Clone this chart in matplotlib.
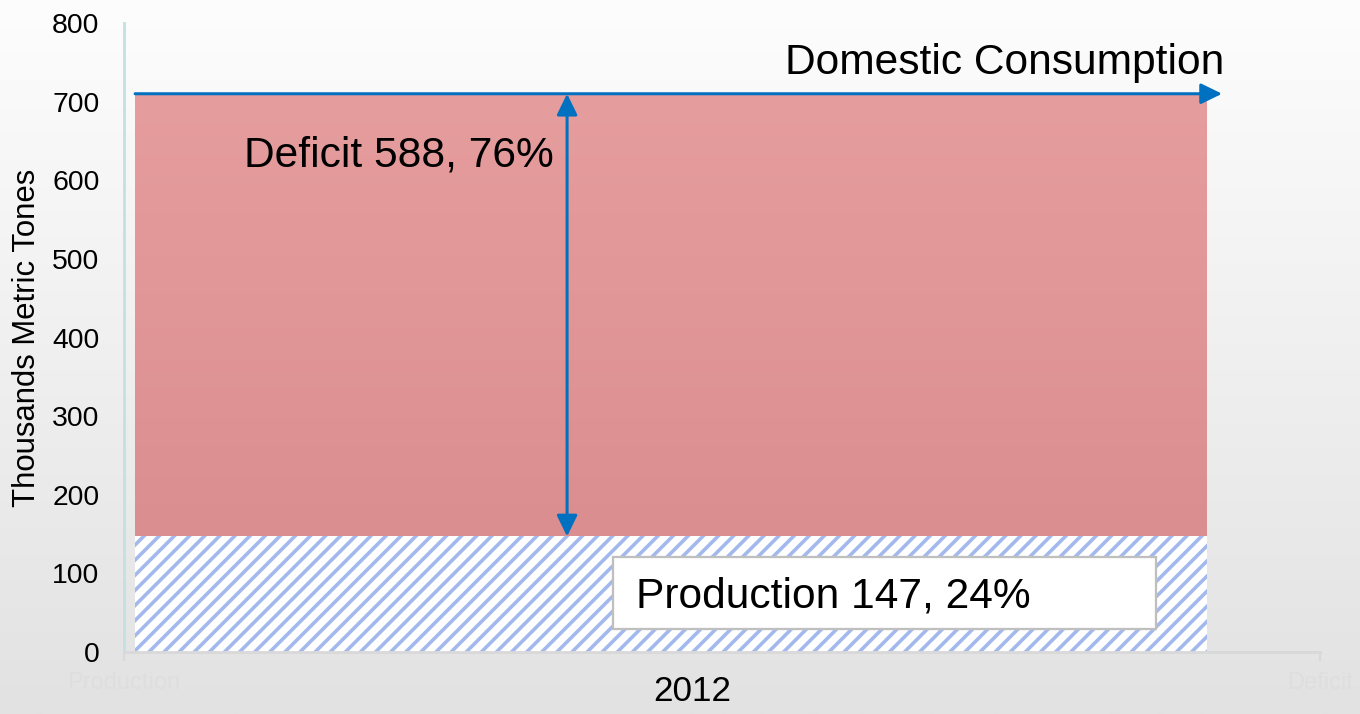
import numpy as np
import matplotlib
matplotlib.use('Agg')
import matplotlib.pyplot as plt
from matplotlib.colors import LinearSegmentedColormap
from matplotlib.patches import Rectangle

# data
years = ['2012']
production = [147]
consumption = [710]
deficit = [c - p for c, p in zip(consumption, production)]
series_names = ['Production', 'Deficit']
y_ticks = [0, 100, 200, 300, 400, 500, 600, 700, 800]
y_label = 'Thousands Metric Tones'
consumption_label = 'Domestic Consumption'
deficit_label = 'Deficit 588, 76%'
production_label = 'Production 147, 24%'

plt.rcParams['font.family'] = ['Liberation Sans', 'DejaVu Sans']
plt.rcParams['hatch.linewidth'] = 1.9

fig = plt.figure(figsize=(10, 5.25), dpi=136)

# grey gradient background
bg = fig.add_axes([0, 0, 1, 1], zorder=-1)
bg_cmap = LinearSegmentedColormap.from_list('bg', ['#fdfdfd', '#e2e2e2'])
bg.imshow(np.linspace(0, 1, 256).reshape(-1, 1), cmap=bg_cmap,
          aspect='auto', extent=[0, 1, 0, 1])
bg.axis('off')

ax = fig.add_axes([0.0912, 0.0868, 0.8794, 0.8810])
ax.set_facecolor('none')

x = np.arange(len(years))
blue = '#0070c0'

# production (hatched)
prod_bars = ax.bar(x, production, width=1.0, color='white',
                   edgecolor='#a3b9ee', hatch='///', linewidth=0, zorder=2)

# deficit (pink with slight vertical gradient)
def_bars = ax.bar(x, deficit, bottom=production, width=1.0,
                  color='#e29798', linewidth=0, zorder=2)
def_cmap = LinearSegmentedColormap.from_list('def', ['#db8e8f', '#e69d9e'])
for b in def_bars:
    im = ax.imshow(np.linspace(0, 1, 128).reshape(-1, 1), cmap=def_cmap,
                   origin='lower', aspect='auto', zorder=2.5,
                   extent=[b.get_x(), b.get_x() + b.get_width(),
                           b.get_y(), b.get_y() + b.get_height()])
    im.set_clip_path(b)

# domestic consumption line with arrow, deficit double arrow
for i, c in enumerate(consumption):
    ax.annotate('', xy=(x[i] + 0.514, c), xytext=(x[i] - 0.5, c),
                arrowprops=dict(arrowstyle='-|>,head_length=0.45,head_width=0.22',
                                color=blue, lw=1.6, mutation_scale=21,
                                shrinkA=0, shrinkB=0), zorder=4)
    ax.annotate('', xy=(x[i] - 0.097, c), xytext=(x[i] - 0.097, production[i]),
                arrowprops=dict(arrowstyle='<|-|>,head_length=0.45,head_width=0.22',
                                color=blue, lw=1.6, mutation_scale=21,
                                shrinkA=0, shrinkB=0), zorder=4)

ax.text(0.106, 749, consumption_label, fontsize=22.5, va='center', ha='left', zorder=5)
ax.text(-0.398, 632, deficit_label, fontsize=22.5, va='center', ha='left', zorder=5)

ax.add_patch(Rectangle((-0.054, 29), 0.506, 92, facecolor='white',
                       edgecolor='#bfbfbf', linewidth=1.2, zorder=4))
ax.text(-0.033, 71, production_label, fontsize=22.5, va='center', ha='left', zorder=5)

ax.set_xlim(-0.5103, 0.6054)
ax.set_ylim(0, 800)
ax.set_yticks(y_ticks)
ax.tick_params(axis='y', length=0, pad=13, labelsize=15)
ax.set_xticks([0.0196], years)
ax.tick_params(axis='x', length=0, pad=12, labelsize=18.5)
ax.set_ylabel(y_label, fontsize=16.5)
ax.yaxis.set_label_coords(-0.069, 0.5)

# faint category names at the axis ends
ax.text(0, -0.05, series_names[0], transform=ax.transAxes, ha='center',
        va='center', fontsize=12.5, color='#dedede')
ax.text(1, -0.05, series_names[1], transform=ax.transAxes, ha='center',
        va='center', fontsize=12.5, color='#dedede')

# end ticks on the x axis
ax.set_xticks([-0.5103, 0.6054], minor=True)
ax.tick_params(axis='x', which='minor', length=5, width=1.2, color='#d9d9d9')

for s in ['top', 'right']:
    ax.spines[s].set_visible(False)
ax.spines['left'].set_color('#c5e0e4')
ax.spines['left'].set_linewidth(1.5)
ax.spines['bottom'].set_color('#d9d9d9')
ax.spines['bottom'].set_linewidth(1.5)

fig.savefig('out.png', dpi=136)
